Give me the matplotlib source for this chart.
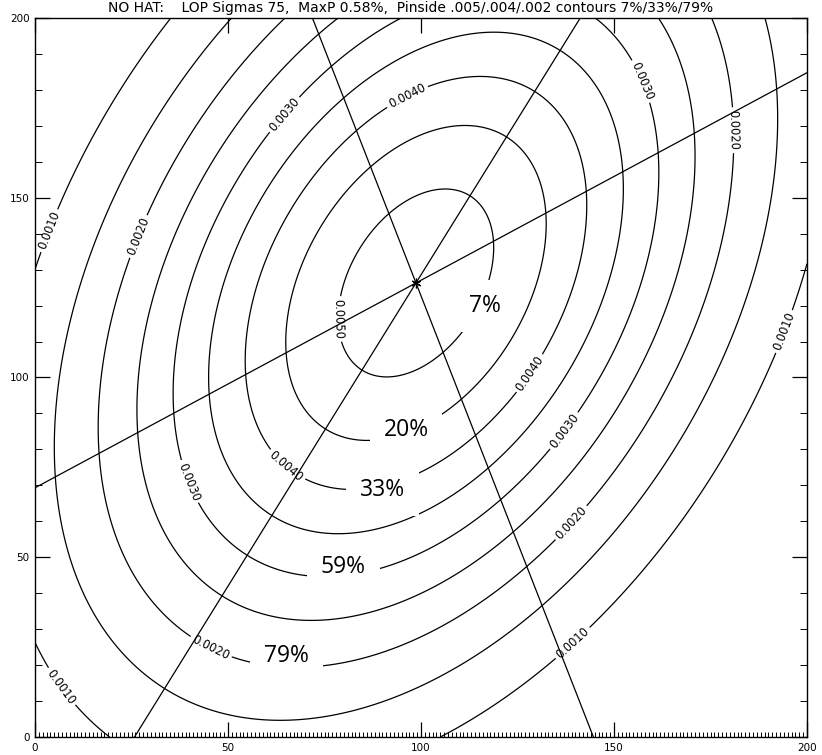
import numpy as np
import matplotlib
matplotlib.use("Agg")
import matplotlib.pyplot as plt

# --- fix model: three lines of position crossing at one point ---
FIX_X = 98.7
FIX_Y = 126.3
LOP_ANGLES_DEG = [30.0, 60.0, 110.0]   # direction of each LOP
LOP_SIGMA = 75.0                        # cross-track sigma of each LOP
PEAK_P = 0.0053                         # probability at the fix point

CONTOUR_LEVELS = [0.0010, 0.0015, 0.0020, 0.0025, 0.0030,
                  0.0035, 0.0040, 0.0045, 0.0050]

# contour label placements, per labelled level
LEVEL_LABEL_SPOTS = {
    0.0010: [(4.5, 140.5), (194.3, 112.7), (3.9, 11.7), (138.6, 27.0)],
    0.0020: [(25.9, 139.6), (181.3, 168.8), (138.1, 60.4), (46.1, 26.1)],
    0.0030: [(68.7, 169.4), (158.0, 182.8), (136.8, 85.4), (41.0, 71.5)],
    0.0040: [(97.2, 176.6), (127.7, 101.5), (66.0, 76.5)],
    0.0050: [(81.1, 116.3)],
}

# probability-inside annotations
PCT_TEXT = ["7%", "20%", "33%", "59%", "79%"]
PCT_X = [116.6, 96.1, 90.0, 79.9, 65.2]
PCT_Y = [119.9, 85.4, 68.7, 47.4, 22.4]

TITLE = ("NO HAT:    LOP Sigmas 75,  MaxP 0.58%,  "
         "Pinside .005/.004/.002 contours 7%/33%/79%")

XMAX = 200
YMAX = 200

# --- probability surface: product of the LOP likelihoods ---
gx = np.linspace(0, XMAX, 401)
gy = np.linspace(0, YMAX, 401)
X, Y = np.meshgrid(gx, gy)
q = np.zeros_like(X)
for ang in LOP_ANGLES_DEG:
    t = np.deg2rad(ang)
    d = -(X - FIX_X) * np.sin(t) + (Y - FIX_Y) * np.cos(t)
    q += (d / LOP_SIGMA) ** 2
P = PEAK_P * np.exp(-0.5 * q)

W, H = 822, 755
fig = plt.figure(figsize=(W / 100, H / 100), dpi=100)
ax = fig.add_axes([35 / W, 1 - 737 / H, (807 - 35) / W, (737 - 18) / H])
ax.set_xlim(0, XMAX)
ax.set_ylim(0, YMAX)

for lev in CONTOUR_LEVELS:
    cs = ax.contour(X, Y, P, levels=[lev], colors="black", linewidths=0.9)
    if lev in LEVEL_LABEL_SPOTS:
        cs.clabel(manual=LEVEL_LABEL_SPOTS[lev], inline=True,
                  inline_spacing=3, fmt="%.4f", fontsize=8.3)

# the LOPs themselves
for ang in LOP_ANGLES_DEG:
    ax.axline((FIX_X, FIX_Y), slope=np.tan(np.deg2rad(ang)),
              color="black", lw=0.9)
ax.plot([FIX_X], [FIX_Y], marker=(6, 2, 0), color="black", ms=7, mew=0.9)

for txt, px, py in zip(PCT_TEXT, PCT_X, PCT_Y):
    ax.text(px, py, txt, ha="center", va="center", fontsize=16.5,
            family="Open Sans", color="black", zorder=10,
            bbox=dict(boxstyle="square,pad=0.6", fc="white", ec="none"))

# axes frame and ticks
for s in ax.spines.values():
    s.set_linewidth(1.0)
ax.set_xticks(np.arange(0, XMAX + 1, 50))
ax.set_xticks(np.arange(0, XMAX + 1, 1), minor=True)
ax.set_yticks(np.arange(0, YMAX + 1, 50))
ax.set_yticks(np.arange(0, YMAX + 1, 10), minor=True)
ax.tick_params(which="major", direction="in", top=True, right=True,
               length=11, width=0.9, labelsize=7.5, pad=4)
ax.tick_params(which="minor", direction="in", top=False, right=True,
               length=5, width=0.7)
ax.tick_params(axis="x", which="minor", length=3.5)

fig.text(0.5, 1 - 8 / H, TITLE, ha="center", va="center", fontsize=10)

fig.savefig("out.png", dpi=100)
